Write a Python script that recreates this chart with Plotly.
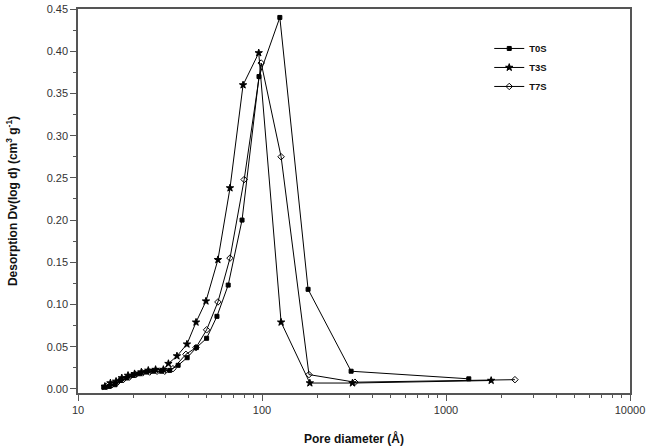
import plotly.graph_objects as go

t0s_d = [13.8, 14.8, 15.9, 17.0, 18.4, 19.9, 21.6, 23.6, 25.8, 28.4, 31.5, 35.0, 39.2, 44.0, 50.0, 56.9, 65.5, 77.9, 96.3, 125, 178, 305, 1330]
t0s_v = [0.002, 0.003, 0.005, 0.010, 0.013, 0.016, 0.018, 0.020, 0.021, 0.021, 0.022, 0.028, 0.037, 0.049, 0.060, 0.086, 0.123, 0.200, 0.370, 0.440, 0.118, 0.021, 0.012]

t3s_d = [14.0, 15.0, 16.1, 17.3, 18.7, 20.3, 22.1, 24.1, 26.4, 29.1, 31.0, 34.5, 39.1, 43.8, 49.6, 57.6, 67.0, 78.9, 96.0, 127, 182, 310, 1760]
t3s_v = [0.003, 0.007, 0.009, 0.013, 0.016, 0.018, 0.020, 0.022, 0.023, 0.023, 0.030, 0.039, 0.053, 0.079, 0.104, 0.153, 0.238, 0.360, 0.398, 0.079, 0.007, 0.007, 0.010]

t7s_d = [14.2, 15.3, 16.4, 17.6, 19.0, 20.6, 22.4, 24.5, 26.9, 29.6, 32.8, 38.6, 43.8, 50.0, 57.6, 67.0, 80.0, 99.0, 127, 180, 320, 2370]
t7s_v = [0.003, 0.005, 0.008, 0.011, 0.014, 0.017, 0.019, 0.020, 0.021, 0.021, 0.024, 0.041, 0.049, 0.070, 0.103, 0.155, 0.248, 0.386, 0.275, 0.017, 0.008, 0.011]

x_ticks = [10, 100, 1000, 10000]
x_labels = ["10", "100", "1000", "10000"]

series = [
    ("T0S", t0s_d, t0s_v, "square", 4),
    ("T3S", t3s_d, t3s_v, "star", 5.5),
    ("T7S", t7s_d, t7s_v, "diamond-open", 5),
]

fig = go.Figure()
for name, d, v, sym, sz in series:
    fig.add_trace(go.Scatter(
        x=d, y=v, name=name, mode="lines+markers",
        line=dict(color="black", width=1),
        marker=dict(symbol=sym, size=sz, color="black",
                    line=dict(color="black", width=1)),
    ))

font = "Liberation Sans, Arial, sans-serif"
fig.update_layout(
    width=655, height=446,
    margin=dict(l=78, r=25, t=9, b=53),
    plot_bgcolor="white", paper_bgcolor="white",
    font=dict(family=font, size=11, color="#333"),
    showlegend=True,
    legend=dict(x=0.745, y=0.935, xanchor="left", yanchor="top",
                bgcolor="rgba(0,0,0,0)", font=dict(size=9.5, color="#111", family=font, weight="bold"),
                itemwidth=30, tracegroupgap=0),
    xaxis=dict(
        type="log", range=[1, 4], tickvals=x_ticks, ticktext=x_labels,
        showline=True, linecolor="#555", linewidth=1.5, mirror=True,
        ticks="outside", ticklen=6, tickcolor="#555",
        minor=dict(ticks="outside", ticklen=3, dtick="D1", tickcolor="#555"),
        showgrid=False, zeroline=False, automargin=False,
        title=dict(text="<b>Pore diameter (Å)</b>", font=dict(size=12, color="#111"), standoff=26),
    ),
    yaxis=dict(
        range=[-0.0048, 0.45], tick0=0, dtick=0.05, tickformat=".2f",
        showline=True, linecolor="#555", linewidth=1.5, mirror=True,
        ticks="outside", ticklen=6, tickcolor="#555",
        minor=dict(ticks="outside", ticklen=3, dtick=0.025, tickcolor="#555"),
        showgrid=False, zeroline=False, automargin=False,
        title=dict(text="<b>Desorption Dv(log d) (cm<sup>3</sup> g<sup>-1</sup>)</b>",
                   font=dict(size=12, color="#111"), standoff=26),
    ),
)
fig.write_html("out.html")
